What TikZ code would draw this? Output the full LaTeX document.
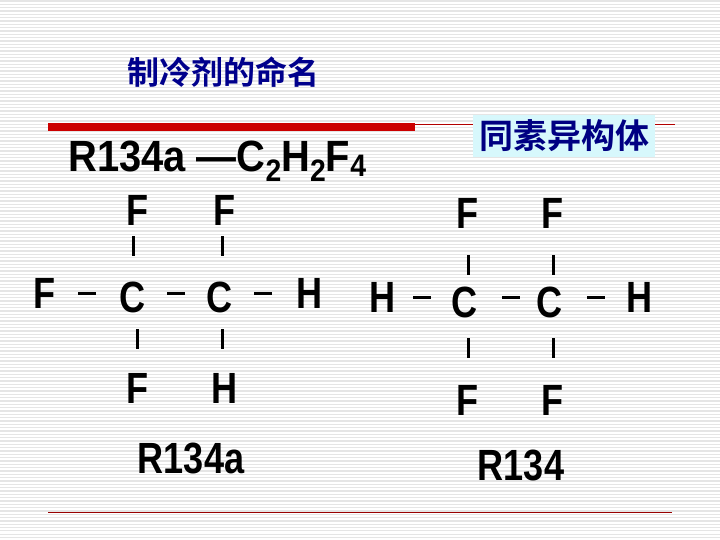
\documentclass[tikz,border=0pt]{standalone}
\usepackage{fontspec}
\setmainfont{Liberation Sans}
\newfontfamily\cjk{Noto Sans CJK SC}[BoldFont={Noto Sans CJK SC Bold}]
\newcommand{\tall}[1]{\scalebox{0.95}[1.15]{#1}}
\begin{document}
\begin{tikzpicture}[x=1pt,y=-1pt,
  atom/.style={inner sep=0pt,font=\bfseries\fontsize{38}{38}\selectfont},
  bond/.style={line width=3pt}]
\useasboundingbox (0,0) rectangle (720,540);
\fill[white] (0,0) rectangle (720,540);
\foreach \i in {0,...,162} {\draw[black!10,line width=1.1pt] (0,\i*3.333+1) -- (720,\i*3.333+1);}
\node[font=\cjk\bfseries\fontsize{32}{32}\selectfont,text={rgb,255:red,0;green,0;blue,140}] (title) at (223,72) {制冷剂的命名};
\fill[red!80!black] (48,123) rectangle (415,131);
\draw[red!70!black,line width=0.8pt] (415,124) -- (675,124);
\draw[red!60!black,line width=0.8pt] (48,512) -- (672,512);
\node[fill={rgb,255:red,215;green,248;blue,252},inner xsep=6pt,inner ysep=5pt,font=\cjk\bfseries\fontsize{34}{34}\selectfont,text={rgb,255:red,0;green,0;blue,130}] (iso) at (564,136) {同素异构体};
\node[anchor=base west,font=\bfseries\fontsize{38}{38}\selectfont,inner sep=0pt] (formula) at (68,172) {\scalebox{1.05}[1.15]{R134a —C\raisebox{-8pt}{\fontsize{27}{27}\selectfont 2}H\raisebox{-8pt}{\fontsize{27}{27}\selectfont 2}F\raisebox{-4pt}{\fontsize{27}{27}\selectfont 4}}};
% left molecule
\node[atom] (lf1) at (138,210) {\tall{F}};
\node[atom] (lf2) at (225,210) {\tall{F}};
\node[atom] (lf0) at (45,293) {\tall{F}};
\node[atom] (lc1) at (133,297) {\tall{C}};
\node[atom] (lc2) at (220,297) {\tall{C}};
\node[atom] (lh1) at (310,293) {\tall{H}};
\node[atom] (lf3) at (138,388) {\tall{F}};
\node[atom] (lh2) at (225,388) {\tall{H}};
\draw[bond] (78,293) -- (96,293);
\draw[bond] (167,293) -- (185,293);
\draw[bond] (254,293) -- (272,293);
\draw[bond] (133,236) -- (133,256);
\draw[bond] (222,236) -- (222,256);
\draw[bond] (137,329) -- (137,349);
\draw[bond] (222,329) -- (222,349);
% right molecule
\node[atom] (rf1) at (468,213) {\tall{F}};
\node[atom] (rf2) at (553,213) {\tall{F}};
\node[atom] (rh0) at (383,297) {\tall{H}};
\node[atom] (rc1) at (465,302) {\tall{C}};
\node[atom] (rc2) at (550,302) {\tall{C}};
\node[atom] (rh1) at (640,297) {\tall{H}};
\node[atom] (rf3) at (468,400) {\tall{F}};
\node[atom] (rf4) at (553,400) {\tall{F}};
\draw[bond] (413,297) -- (431,297);
\draw[bond] (502,297) -- (520,297);
\draw[bond] (587,297) -- (605,297);
\draw[bond] (468,255) -- (468,275);
\draw[bond] (553,255) -- (553,275);
\draw[bond] (468,338) -- (468,358);
\draw[bond] (553,338) -- (553,358);
\node[font=\bfseries\fontsize{38}{38}\selectfont,inner sep=0pt] (n1) at (191,458) {\tall{R134a}};
\node[font=\bfseries\fontsize{38}{38}\selectfont,inner sep=0pt] (n2) at (521,465) {\tall{R134}};
\end{tikzpicture}
\end{document}
